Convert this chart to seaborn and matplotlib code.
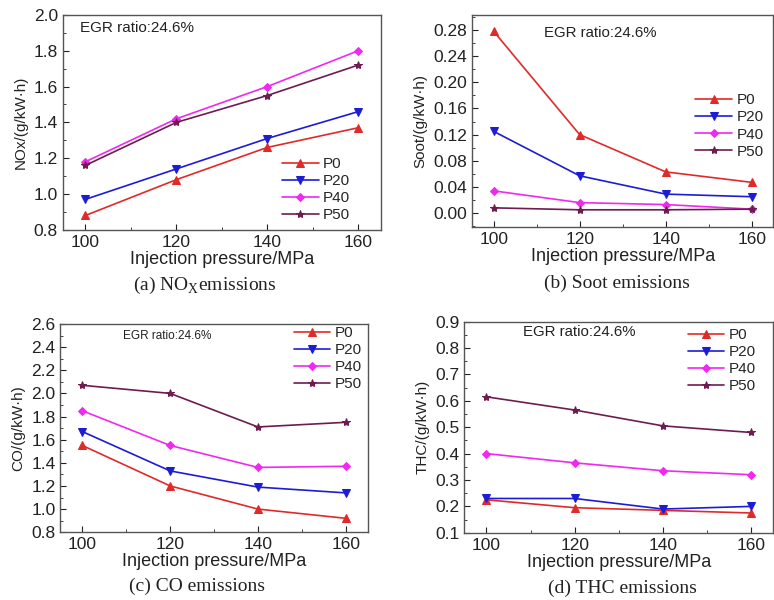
import numpy as np
import pandas as pd
import matplotlib
matplotlib.use("Agg")
import matplotlib.pyplot as plt
from matplotlib.ticker import MultipleLocator
import seaborn as sns

pressure = [100, 120, 140, 160]
series = ["P0", "P20", "P40", "P50"]

nox_p0 = [0.88, 1.08, 1.26, 1.37]
nox_p20 = [0.97, 1.14, 1.31, 1.46]
nox_p40 = [1.18, 1.42, 1.60, 1.80]
nox_p50 = [1.16, 1.40, 1.55, 1.72]

soot_p0 = [0.278, 0.120, 0.063, 0.047]
soot_p20 = [0.125, 0.057, 0.029, 0.025]
soot_p40 = [0.034, 0.016, 0.013, 0.006]
soot_p50 = [0.008, 0.005, 0.005, 0.006]

co_p0 = [1.55, 1.20, 1.00, 0.92]
co_p20 = [1.67, 1.33, 1.19, 1.14]
co_p40 = [1.85, 1.55, 1.36, 1.37]
co_p50 = [2.07, 2.00, 1.71, 1.75]

thc_p0 = [0.225, 0.195, 0.185, 0.175]
thc_p20 = [0.230, 0.230, 0.190, 0.200]
thc_p40 = [0.400, 0.365, 0.335, 0.320]
thc_p50 = [0.615, 0.565, 0.505, 0.480]

sns.set_style("white")
plt.rcParams['font.family'] = ['Liberation Sans', 'DejaVu Sans']

colors = {"P0": "#e02a2a", "P20": "#1c1cd6", "P40": "#f028f0", "P50": "#6e1c50"}
markers = {"P0": "^", "P20": "v", "P40": "D", "P50": "*"}
msize = {"P0": 5.5, "P20": 5.5, "P40": 4.5, "P50": 6}

fig = plt.figure(figsize=(7.74, 6), dpi=100)

# axes rect, data, y range, label text, EGR note (x, y, size), legend anchor, caption (x, y)
panels = [
    dict(pos=[0.081, 0.617, 0.411, 0.358], data=[nox_p0, nox_p20, nox_p40, nox_p50],
         ylim=(0.8, 2.0), major=0.2, fmt="%.1f", ylabel="NOx/(g/kW·h)",
         egr=(0.053, 0.94, 11), leg=(0.689, 0.186),
         cap="(a) NO$_\\mathregular{X}$emissions", capxy=(0.265, 0.525)),
    dict(pos=[0.610, 0.622, 0.389, 0.353], data=[soot_p0, soot_p20, soot_p40, soot_p50],
         ylim=(-0.021, 0.303), major=0.04, fmt="%.2f", ylabel="Soot/(g/kW·h)",
         egr=(0.24, 0.915, 10.8), leg=(0.741, 0.476),
         cap="(b) Soot emissions", capxy=(0.797, 0.528)),
    dict(pos=[0.078, 0.113, 0.397, 0.347], data=[co_p0, co_p20, co_p40, co_p50],
         ylim=(0.8, 2.6), major=0.2, fmt="%.1f", ylabel="CO/(g/kW·h)",
         egr=(0.205, 0.94, 8.5), leg=(0.759, 0.834),
         cap="(c) CO emissions", capxy=(0.255, 0.022)),
    dict(pos=[0.600, 0.112, 0.399, 0.352], data=[thc_p0, thc_p20, thc_p40, thc_p50],
         ylim=(0.1, 0.9), major=0.1, fmt="%.1f", ylabel="THC/(g/kW·h)",
         egr=(0.19, 0.95, 10.8), leg=(0.723, 0.815),
         cap="(d) THC emissions", capxy=(0.804, 0.02)),
]

for p in panels:
    ax = fig.add_axes(p["pos"])
    for name, vals in zip(series, p["data"]):
        sns.lineplot(x=pressure, y=vals, ax=ax, color=colors[name], marker=markers[name],
                     markersize=msize[name], markeredgecolor=colors[name], linewidth=1.2,
                     label=name)
    ax.set_xlim(95, 165)
    ax.set_ylim(*p["ylim"])
    ax.set_xticks(pressure)
    ax.xaxis.set_minor_locator(MultipleLocator(10))
    ax.yaxis.set_major_locator(MultipleLocator(p["major"]))
    ax.yaxis.set_minor_locator(MultipleLocator(p["major"] / 2))
    ax.yaxis.set_major_formatter(matplotlib.ticker.FormatStrFormatter(p["fmt"]))
    ax.tick_params(which="both", direction="in", left=True, bottom=True, labelsize=12.5, colors="#222222")
    ax.tick_params(which="major", length=4)
    ax.tick_params(which="minor", length=2.5)
    for s in ax.spines.values():
        s.set_color("#555555")
        s.set_linewidth(1.0)
    ax.set_xlabel("Injection pressure/MPa", fontsize=13, labelpad=1, color="#222222")
    ax.set_ylabel(p["ylabel"], fontsize=11, labelpad=4, color="#222222")
    ex, ey, es = p["egr"]
    ax.text(ex, ey, "EGR ratio:24.6%", transform=ax.transAxes, fontsize=es, va="center", color="#222222")
    ax.legend(frameon=False, fontsize=11, handlelength=2.4, handletextpad=0.3,
              labelspacing=0.2, borderpad=0, borderaxespad=0,
              loc="center left", bbox_to_anchor=p["leg"])
    fig.text(p["capxy"][0], p["capxy"][1], p["cap"], ha="center", va="center", fontsize=14,
             family=["Liberation Serif", "DejaVu Serif"], color="#222222")

fig.savefig("out.png", dpi=100)
